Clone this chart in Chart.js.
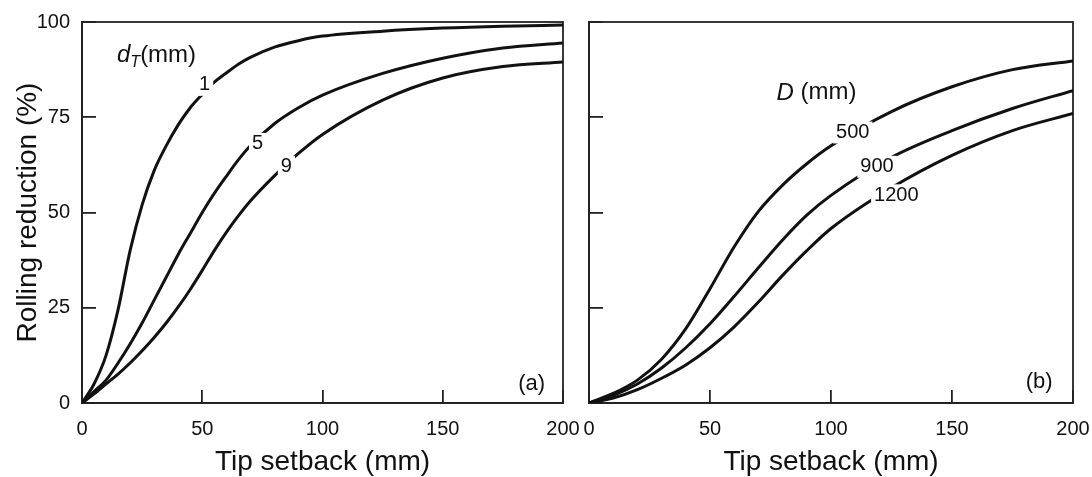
<!DOCTYPE html>
<html>
<head>
<meta charset="utf-8">
<script src="https://cdn.jsdelivr.net/npm/chart.js@4.4.1/dist/chart.umd.min.js"></script>
<style>
  html, body { margin: 0; padding: 0; background: #fff; }
  #wrap { position: relative; width: 1092px; height: 477px; overflow: hidden; }
  .pane { position: absolute; top: 0; height: 477px; }
  #pa { left: 0; width: 600px; }
  #pb { left: 560px; width: 532px; }
</style>
</head>
<body>
<div id="wrap">
  <div class="pane" id="pa"><canvas id="ca"></canvas></div>
  <div class="pane" id="pb"><canvas id="cb"></canvas></div>
</div>
<script>
// ---------- DATA ----------
// Panel (a): tip diameter d_T (mm)
const setbackA = [0, 5, 10, 15, 20, 25, 30, 35, 40, 45, 50, 55, 60, 65, 70, 80, 90, 100, 125, 150, 175, 200];
const dT1 = [0, 5, 12.5, 24.5, 40, 52, 61, 67.5, 73, 77.5, 81, 84.2, 86.6, 88.9, 90.7, 93.4, 95.1, 96.3, 97.6, 98.4, 98.9, 99.2];
const dT5 = [0, 3, 6, 10.5, 15.5, 21, 27, 33, 39, 44.5, 50, 55, 59.5, 63.8, 67.5, 73.3, 77.5, 80.8, 86.5, 90.5, 93.2, 94.5];
const dT9 = [0, 2.4, 5, 7.6, 10.5, 13.7, 17.2, 21, 25.2, 29.8, 34.8, 40, 44.8, 49.1, 53, 59.6, 65.5, 70.5, 79.5, 85.3, 88.3, 89.5];
const seriesNamesA = ['1', '5', '9'];

// Panel (b): roll diameter D (mm)
const setbackB = [0, 10, 20, 30, 40, 50, 60, 70, 80, 90, 100, 125, 150, 175, 200];
const D500 = [0, 2.5, 6, 11.5, 19.5, 30, 41, 50.3, 57.2, 62.8, 67.5, 76.5, 83, 87.5, 89.8];
const D900 = [0, 2, 5, 9.2, 14.5, 20.8, 28, 35.5, 42.8, 49.3, 54.5, 64.5, 71.5, 77.3, 82];
const D1200 = [0, 1.3, 3.5, 6.5, 10, 14.5, 20, 26.5, 33.5, 40, 45.8, 56.5, 65, 71.5, 76];
const seriesNamesB = ['500', '900', '1200'];

const xTicks = [0, 50, 100, 150, 200];
const yTicks = [0, 25, 50, 75, 100];
const xTitle = 'Tip setback (mm)';
const yTitle = 'Rolling reduction (%)';

// ---------- helpers ----------
const FONT = '"Liberation Sans", Arial, Helvetica, sans-serif';
const INK = '#111';

function pts(xs, ys) { return xs.map((x, i) => ({ x: x, y: ys[i] })); }
function ds(label, xs, ys) {
  return {
    label: label, data: pts(xs, ys), borderColor: INK, borderWidth: 3,
    pointRadius: 0, fill: false, cubicInterpolationMode: 'monotone'
  };
}

// frame + text annotations plugin
function makeAnnot(items) {
  return {
    id: 'annot',
    beforeDatasetsDraw(chart) {
      const { ctx, chartArea: a } = chart;
      ctx.save();
      ctx.strokeStyle = '#222';
      ctx.lineWidth = 1.8;
      ctx.strokeRect(a.left, a.top, a.right - a.left, a.bottom - a.top);
      ctx.restore();
    },
    afterDatasetsDraw(chart) {
      const { ctx } = chart;
      const xs = chart.scales.x, ys = chart.scales.y;
      ctx.save();
      ctx.textBaseline = 'middle';
      items.forEach(it => {
        const px = xs.getPixelForValue(it.x), py = ys.getPixelForValue(it.y);
        let w = 0;
        it.parts.forEach(p => {
          ctx.font = (p.italic ? 'italic ' : '') + p.size + 'px ' + FONT;
          p.w = ctx.measureText(p.t).width; w += p.w;
        });
        const h = it.parts[0].size;
        let x0 = px - w / 2;
        if (it.bg) {
          ctx.fillStyle = '#fff';
          ctx.fillRect(x0 - 3, py - h / 2 - 1, w + 6, h + 2);
        }
        ctx.fillStyle = INK;
        ctx.textAlign = 'left';
        it.parts.forEach(p => {
          ctx.font = (p.italic ? 'italic ' : '') + p.size + 'px ' + FONT;
          ctx.fillText(p.t, x0, py + (p.dy || 0));
          x0 += p.w;
        });
      });
      ctx.restore();
    }
  };
}

function baseOptions(showY, yWidth, padRight) {
  return {
    responsive: true, maintainAspectRatio: false, animation: false,
    layout: { padding: { top: 22, right: padRight, left: 0, bottom: 0 } },
    plugins: { legend: { display: false }, tooltip: { enabled: false } },
    scales: {
      x: {
        type: 'linear', min: 0, max: 200,
        afterBuildTicks(s) { s.ticks = xTicks.map(v => ({ value: v })); },
        afterFit(s) { s.height = 74; s.paddingLeft = 0; s.paddingRight = 0; },
        grid: { drawOnChartArea: false, drawTicks: true, tickLength: -13, color: '#222', lineWidth: 1.8 },
        border: { display: true, color: '#222', width: 1.8 },
        ticks: { color: INK, font: { family: FONT, size: 20 }, padding: 27, maxRotation: 0, autoSkip: false },
        title: { display: true, text: xTitle, color: INK, font: { family: FONT, size: 28, lineHeight: 1.0 }, padding: { top: 0, bottom: 1 } }
      },
      y: {
        type: 'linear', min: 0, max: 100,
        afterBuildTicks(s) { s.ticks = yTicks.map(v => ({ value: v })); },
        afterFit(s) { s.width = yWidth; s.paddingTop = 0; s.paddingBottom = 0; },
        grid: { drawOnChartArea: false, drawTicks: true, tickLength: -14, color: '#222', lineWidth: 1.8 },
        border: { display: true, color: '#222', width: 1.8 },
        ticks: { display: showY, color: INK, font: { family: FONT, size: 20 }, padding: 26 },
        title: { display: showY, text: yTitle, color: INK, font: { family: FONT, size: 28, lineHeight: 1.0 }, padding: { top: 14, bottom: 0 } }
      }
    }
  };
}

// ---------- Panel (a) ----------
new Chart(document.getElementById('ca'), {
  type: 'line',
  data: { datasets: [ds(seriesNamesA[0], setbackA, dT1), ds(seriesNamesA[1], setbackA, dT5), ds(seriesNamesA[2], setbackA, dT9)] },
  options: baseOptions(true, 82, 37),
  plugins: [makeAnnot([
    { x: 31, y: 91.3, parts: [{ t: 'd', italic: true, size: 24 }, { t: 'T', italic: true, size: 16, dy: 7 }, { t: '(mm)', size: 24 }] },
    { x: 51, y: 83.5, bg: true, parts: [{ t: seriesNamesA[0], size: 20 }] },
    { x: 73, y: 68, bg: true, parts: [{ t: seriesNamesA[1], size: 20 }] },
    { x: 85, y: 62, bg: true, parts: [{ t: seriesNamesA[2], size: 20 }] },
    { x: 187, y: 5, parts: [{ t: '(a)', size: 22 }] }
  ])]
});

// ---------- Panel (b) ----------
new Chart(document.getElementById('cb'), {
  type: 'line',
  data: { datasets: [ds(seriesNamesB[0], setbackB, D500), ds(seriesNamesB[1], setbackB, D900), ds(seriesNamesB[2], setbackB, D1200)] },
  options: baseOptions(false, 29, 19),
  plugins: [makeAnnot([
    { x: 94, y: 81.4, parts: [{ t: 'D', italic: true, size: 24 }, { t: ' (mm)', size: 24 }] },
    { x: 109, y: 71, bg: true, parts: [{ t: seriesNamesB[0], size: 20 }] },
    { x: 119, y: 62, bg: true, parts: [{ t: seriesNamesB[1], size: 20 }] },
    { x: 127, y: 54.5, bg: true, parts: [{ t: seriesNamesB[2], size: 20 }] },
    { x: 186, y: 5.5, parts: [{ t: '(b)', size: 22 }] }
  ])]
});
</script>
</body>
</html>
